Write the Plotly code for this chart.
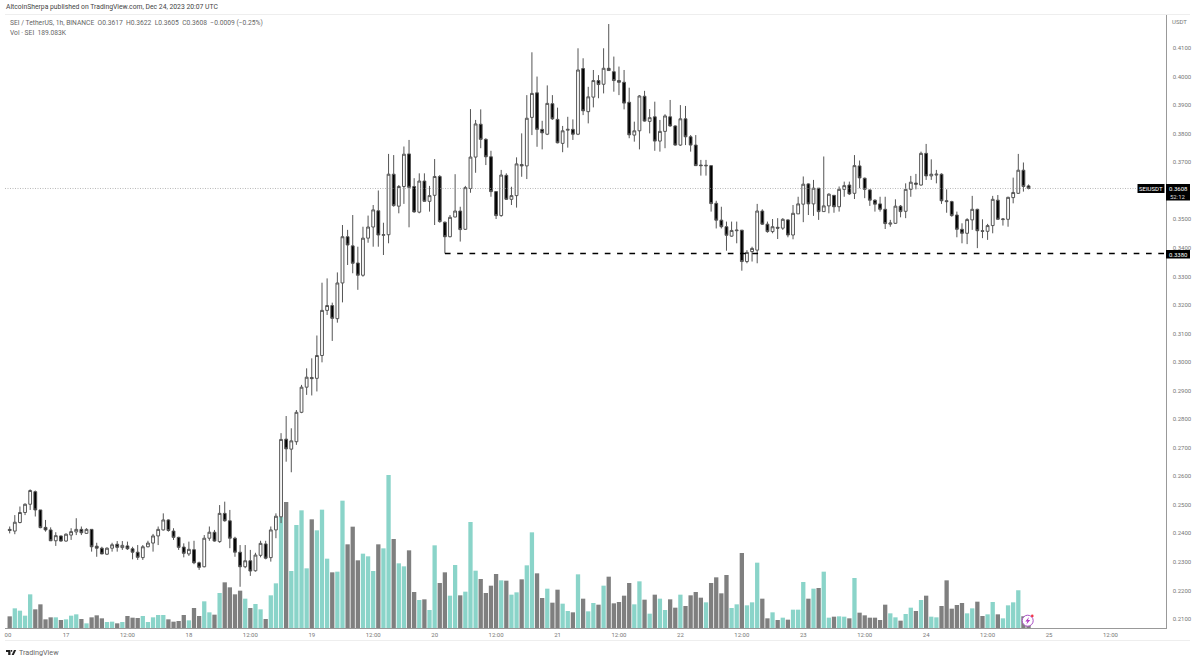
import pandas as pd
import plotly.graph_objects as go

W, H = 1200, 663

times = pd.date_range("2023-12-16 13:00", periods=200, freq="h")

opens = [
    .2414,.2408,.2438,.2473,.2502,.2546,.2482,.2421,.2412,.2374,
    .2391,.2373,.2394,.2405,.2414,.2400,.2414,.2355,.2348,.2327,
    .2348,.2362,.2350,.2356,.2346,.2334,.2315,.2353,.2366,.2391,
    .2412,.2447,.2408,.2386,.2352,.2328,.2343,.2297,.2283,.2383,
    .2404,.2371,.2470,.2444,.2383,.2334,.2283,.2304,.2269,.2323,
    .2363,.2315,.2412,.2458,.2730,.2695,.2721,.2824,.2912,.2946,
    .2943,.3023,.3181,.3198,.3152,.3277,.3439,.3407,.3347,.3304,
    .3434,.3473,.3530,.3444,.3446,.3658,.3546,.3615,.3729,.3615,
    .3525,.3634,.3563,.3584,.3650,.3490,.3439,.3508,.3529,.3465,
    .3608,.3718,.3833,.3780,.3719,.3597,.3513,.3654,.3570,.3583,
    .3692,.3687,.3857,.3943,.3815,.3798,.3905,.3850,.3766,.3812,
    .3815,.3798,.4028,.3877,.3928,.3986,.3973,.4029,.4017,.3986,
    .3980,.3910,.3795,.3810,.3931,.3843,.3859,.3774,.3808,.3859,
    .3827,.3760,.3852,.3789,.3760,.3690,.3687,.3688,.3556,.3497,
    .3474,.3441,.3460,.3462,.3352,.3387,.3392,.3529,.3483,.3457,
    .3472,.3469,.3498,.3445,.3519,.3553,.3624,.3554,.3609,.3527,
    .3547,.3584,.3544,.3605,.3620,.3591,.3687,.3644,.3603,.3567,
    .3554,.3535,.3483,.3486,.3546,.3528,.3605,.3627,.3620,.3731,
    .3652,.3655,.3658,.3565,.3562,.3515,.3465,.3451,.3498,.3535,
    .3460,.3458,.3478,.3567,.3499,.3500,.3576,.3591,.3672,.3617,
]
highs = [
    .2424,.2464,.2494,.2505,.2554,.2550,.2482,.2447,.2421,.2404,
    .2392,.2400,.2418,.2453,.2424,.2418,.2415,.2367,.2353,.2351,
    .2367,.2373,.2373,.2371,.2353,.2359,.2359,.2374,.2398,.2424,
    .2470,.2449,.2418,.2388,.2365,.2371,.2374,.2301,.2394,.2424,
    .2412,.2499,.2511,.2482,.2388,.2359,.2359,.2342,.2332,.2374,
    .2374,.2424,.2470,.2751,.2811,.2768,.2832,.2920,.2978,.3013,
    .3093,.3278,.3293,.3208,.3314,.3480,.3463,.3515,.3404,.3474,
    .3513,.3550,.3601,.3488,.3729,.3725,.3620,.3755,.3778,.3644,
    .3661,.3661,.3617,.3711,.3655,.3492,.3515,.3658,.3544,.3617,
    .3886,.3848,.3885,.3784,.3740,.3597,.3673,.3661,.3614,.3717,
    .3801,.3935,.4085,.4000,.3845,.3969,.3935,.3891,.3827,.3859,
    .3850,.4099,.4064,.3964,.4023,.4005,.4099,.4184,.4070,.4035,
    .4023,.3961,.3842,.3935,.3950,.3886,.3912,.3848,.3868,.3918,
    .3829,.3900,.3897,.3795,.3795,.3708,.3708,.3688,.3565,.3544,
    .3492,.3492,.3492,.3462,.3392,.3404,.3554,.3535,.3492,.3501,
    .3504,.3504,.3500,.3550,.3579,.3650,.3626,.3638,.3609,.3720,
    .3591,.3585,.3615,.3632,.3632,.3725,.3706,.3646,.3605,.3570,
    .3579,.3579,.3498,.3570,.3550,.3626,.3652,.3659,.3737,.3764,
    .3710,.3673,.3661,.3605,.3565,.3527,.3486,.3504,.3582,.3537,
    .3500,.3484,.3582,.3585,.3504,.3579,.3646,.3729,.3699,.3622,
]
lows = [
    .2400,.2397,.2435,.2464,.2482,.2459,.2418,.2406,.2373,.2356,
    .2371,.2371,.2377,.2394,.2394,.2398,.2336,.2318,.2327,.2324,
    .2336,.2336,.2342,.2342,.2309,.2307,.2307,.2351,.2336,.2359,
    .2410,.2406,.2377,.2342,.2316,.2321,.2292,.2272,.2281,.2374,
    .2371,.2367,.2441,.2348,.2318,.2213,.2278,.2251,.2266,.2316,
    .2309,.2301,.2383,.2436,.2651,.2614,.2710,.2821,.2885,.2883,
    .2897,.2999,.3165,.3074,.3138,.3209,.3340,.3311,.3253,.3299,
    .3418,.3404,.3404,.3375,.3416,.3544,.3521,.3554,.3472,.3523,
    .3521,.3561,.3527,.3480,.3488,.3381,.3437,.3507,.3422,.3463,
    .3593,.3663,.3749,.3690,.3579,.3501,.3509,.3568,.3550,.3541,
    .3649,.3641,.3795,.3754,.3745,.3795,.3848,.3766,.3735,.3751,
    .3778,.3795,.3865,.3836,.3892,.3924,.3941,.4021,.3947,.3935,
    .3885,.3784,.3772,.3745,.3842,.3801,.3740,.3737,.3749,.3824,
    .3758,.3757,.3760,.3737,.3688,.3653,.3653,.3527,.3468,.3468,
    .3390,.3439,.3416,.3320,.3346,.3352,.3346,.3480,.3453,.3451,
    .3431,.3463,.3437,.3430,.3519,.3490,.3515,.3512,.3498,.3527,
    .3521,.3523,.3527,.3579,.3585,.3571,.3609,.3574,.3547,.3527,
    .3527,.3466,.3474,.3484,.3507,.3504,.3579,.3605,.3618,.3638,
    .3638,.3626,.3554,.3523,.3509,.3437,.3416,.3413,.3463,.3399,
    .3434,.3428,.3451,.3498,.3478,.3474,.3556,.3589,.3597,.3605,
]
closes = [
    .2410,.2439,.2473,.2502,.2550,.2482,.2420,.2412,.2374,.2392,
    .2373,.2397,.2406,.2414,.2402,.2414,.2353,.2348,.2328,.2348,
    .2360,.2351,.2358,.2346,.2334,.2316,.2353,.2366,.2391,.2414,
    .2447,.2410,.2386,.2351,.2330,.2344,.2297,.2281,.2383,.2404,
    .2373,.2470,.2444,.2383,.2334,.2283,.2304,.2268,.2324,.2365,
    .2313,.2412,.2460,.2729,.2696,.2724,.2824,.2912,.2947,.2942,
    .3023,.3181,.3198,.3153,.3277,.3439,.3410,.3346,.3304,.3434,
    .3473,.3533,.3445,.3446,.3658,.3548,.3615,.3728,.3612,.3526,
    .3634,.3563,.3583,.3650,.3492,.3439,.3507,.3529,.3464,.3611,
    .3718,.3834,.3780,.3719,.3597,.3513,.3655,.3570,.3583,.3694,
    .3687,.3854,.3941,.3815,.3803,.3906,.3852,.3768,.3810,.3815,
    .3798,.4023,.3880,.3929,.3986,.3972,.4029,.4021,.3986,.3980,
    .3907,.3796,.3810,.3932,.3844,.3856,.3774,.3808,.3862,.3827,
    .3760,.3852,.3789,.3760,.3688,.3688,.3689,.3555,.3497,.3474,
    .3444,.3461,.3462,.3352,.3384,.3398,.3529,.3483,.3457,.3474,
    .3469,.3500,.3445,.3521,.3554,.3623,.3554,.3609,.3527,.3547,
    .3588,.3544,.3605,.3618,.3589,.3688,.3645,.3605,.3567,.3553,
    .3535,.3485,.3487,.3546,.3527,.3605,.3630,.3623,.3731,.3652,
    .3658,.3658,.3565,.3562,.3513,.3465,.3451,.3499,.3535,.3460,
    .3458,.3478,.3570,.3500,.3501,.3577,.3594,.3672,.3615,.3608,
]
# volume in thousands of SEI
volumes = [
    350,590,520,370,1010,560,710,260,320,320,
    240,260,370,410,270,140,320,380,290,180,
    190,140,180,360,310,300,360,180,320,390,
    390,260,190,210,390,230,600,360,800,470,
    400,1050,1370,1220,1010,1120,880,600,720,560,
    270,980,1340,3330,3780,1710,3090,3530,1790,3260,
    2930,3550,2080,1670,1690,3820,2510,3040,2030,2230,
    2150,1710,2510,2390,4590,2670,1940,1850,2330,1080,
    840,860,540,2480,1350,1670,970,1890,980,1090,
    3180,1720,1470,1050,1270,1620,1430,1420,1000,1070,
    1460,1880,2870,1640,900,1180,760,1150,730,510,
    470,1610,880,500,750,700,1270,1540,740,780,
    970,1350,710,1400,850,430,1000,880,540,860,
    610,1000,660,980,1080,910,770,1350,1520,1040,
    1590,600,710,2250,680,770,1960,880,290,470,
    240,310,250,550,550,1380,880,1180,1200,1690,
    310,340,350,340,290,1500,460,380,310,310,
    240,700,440,320,220,420,610,510,840,970,
    340,320,660,1430,580,690,750,440,590,790,
    360,410,780,410,290,680,770,1130,350,189.083,
]

# 0.36 sits behind the last price label in the original, so it is left out
price_ticks = [.41,.40,.39,.38,.37,.35,.34,.33,.32,.31,.30,.29,.28,.27,.26,.25,.24,.23,.22,.21]
time_ticks = ["2023-12-16 12:40","2023-12-17","2023-12-17 12:00","2023-12-18","2023-12-18 12:00",
              "2023-12-19","2023-12-19 12:00","2023-12-20","2023-12-20 12:00","2023-12-21",
              "2023-12-21 12:00","2023-12-22","2023-12-22 12:00","2023-12-23","2023-12-23 12:00",
              "2023-12-24","2023-12-24 12:00","2023-12-25","2023-12-25 12:00"]
time_labels = ["00","17","12:00","18","12:00","19","12:00","20","12:00","21","12:00",
               "22","12:00","23","12:00","24","12:00","25","12:00"]

last_price = 0.3608
level_price = 0.3380
level_start = 85

TEAL = "#8AD4C9"
GRAY = "#7F7F7F"
FONT = "Roboto"


def px(x):
    return x / W


def py(y):
    return 1 - y / H


fig = go.Figure()

vol_colors = [TEAL if c >= o else GRAY for o, c in zip(opens, closes)]
fig.add_trace(go.Bar(x=times, y=volumes, marker=dict(color=vol_colors, line_width=0), yaxis="y"))

fig.add_trace(go.Candlestick(
    x=times, open=opens, high=highs, low=lows, close=closes, yaxis="y2",
    increasing=dict(fillcolor="white", line=dict(color="#555555", width=1)),
    decreasing=dict(fillcolor="black", line=dict(color="#555555", width=1)),
    whiskerwidth=0,
))

fig.update_layout(
    width=W, height=H, autosize=False, showlegend=False,
    margin=dict(l=0, r=0, t=0, b=0),
    paper_bgcolor="white", plot_bgcolor="white",
    bargap=0.16, boxgap=0.22,
    font=dict(family=FONT, size=6, color="#777777"),
    xaxis=dict(
        type="date", domain=[px(5), px(1165.5)],
        range=["2023-12-16 12:05", "2023-12-25 22:45"],
        tickmode="array", tickvals=time_ticks, ticktext=time_labels,
        showgrid=False, zeroline=False, rangeslider=dict(visible=False),
        showline=True, linecolor="#999999", linewidth=1,
        ticks="outside", ticklen=1, tickcolor="rgba(0,0,0,0)",
        tickfont=dict(size=6, color="#777777"),
    ),
    yaxis=dict(
        domain=[py(628), py(15)], range=[0, 18390], visible=False, fixedrange=True,
    ),
    yaxis2=dict(
        overlaying="y", side="right", anchor="x",
        range=[0.20685, 0.42156],
        tickmode="array", tickvals=price_ticks, tickformat=".4f",
        showgrid=False, zeroline=False,
        showline=True, linecolor="#999999", linewidth=1,
        ticks="outside", ticklen=5, tickcolor="rgba(0,0,0,0)",
        tickfont=dict(size=6, color="#777777"),
    ),
)

# last price and support level
fig.add_shape(type="line", xref="x domain", yref="y2", x0=0, x1=0.976, y0=last_price, y1=last_price,
              line=dict(color="#999999", width=0.7, dash="1px,1.5px"))
fig.add_shape(type="line", xref="x", yref="y2", x0=times[level_start], y0=level_price,
              x1="2023-12-25 22:45", y1=level_price,
              line=dict(color="black", width=1.4, dash="5.7px,6.6px"))


def box(x0, y0, x1, y1):
    fig.add_shape(type="rect", xref="paper", yref="paper", x0=px(x0), x1=px(x1), y0=py(y0), y1=py(y1),
                  fillcolor="black", line_width=0, layer="above")


def label(x, y, text, size=6, color="#777777", anchor="left"):
    fig.add_annotation(xref="paper", yref="paper", x=px(x), y=py(y), text=text, showarrow=False,
                       xanchor=anchor, yanchor="middle", font=dict(family=FONT, size=size, color=color),
                       borderpad=0, borderwidth=0)


def path(points):
    d = "M" + " L".join(f"{px(a):.5f} {py(b):.5f}" for a, b in points) + " Z"
    fig.add_shape(type="path", xref="paper", yref="paper", path=d, fillcolor="#222222", line_width=0)


# price labels on the axis
box(1137.5, 184, 1164.5, 193)
box(1166, 184, 1190, 200.5)
box(1166, 250, 1190, 258.5)
label(1151, 188.7, "SEIUSDT", color="white", anchor="center")
label(1178, 188.7, "0.3608", color="white", anchor="center")
label(1178, 196, "52:12", color="#dddddd", anchor="center")
label(1178, 254.3, "0.3380", color="white", anchor="center")
label(1179, 22, "USDT", anchor="center")

# header text
label(6, 7.5, "AltcoinSherpa published on TradingView.com, Dec 24, 2023 20:07 UTC", size=6.8, color="#444444")
label(10, 23, "SEI / TetherUS, 1h, BINANCE\u00a0\u00a0O0.3617\u00a0\u00a0H0.3622\u00a0\u00a0L0.3605\u00a0\u00a0C0.3608"
              "\u00a0\u00a0\u22120.0009 (\u22120.25%)", size=6.7, color="#666666")
label(10, 33, "Vol \u00b7 SEI\u00a0\u00a0189.083K", size=6.7, color="#666666")

# frame lines
for y in (14.5, 640.5):
    fig.add_shape(type="line", xref="paper", yref="paper", x0=px(5), x1=px(1190), y0=py(y), y1=py(y),
                  line=dict(color="#eeeeee", width=1))

# TradingView logo
path([(6, 650), (10.5, 650), (10.5, 655), (8.2, 655), (8.2, 652), (6, 652)])
path([(11, 650), (12.2, 650), (12.2, 651.8), (11, 651.8)])
path([(14, 650), (16.2, 650), (13.8, 655), (11.6, 655)])
label(19, 652.5, "TradingView", size=7.2, color="#666666")

# lightning badge
fig.add_shape(type="circle", xref="paper", yref="paper", x0=px(1022.2), x1=px(1033.2), y0=py(615.2), y1=py(626.2),
              fillcolor="white", line=dict(color="#A94FC6", width=1), layer="above")
fig.add_shape(type="path", xref="paper", yref="paper", fillcolor="#B23CC4", line_width=0, layer="above",
              path="M" + " L".join(f"{px(a):.5f} {py(b):.5f}" for a, b in
                                   [(1029, 617), (1025.3, 621.4), (1027.4, 621.4), (1026.4, 624.6),
                                    (1030.2, 620), (1028, 620)]) + " Z")
fig.add_shape(type="circle", xref="paper", yref="paper", x0=px(1031), x1=px(1033.6), y0=py(614.6), y1=py(617.2),
              fillcolor="#F23645", line_width=0, layer="above")

fig.write_html("out.html", config={"displayModeBar": False}, post_script="document.body.style.margin='0';")
